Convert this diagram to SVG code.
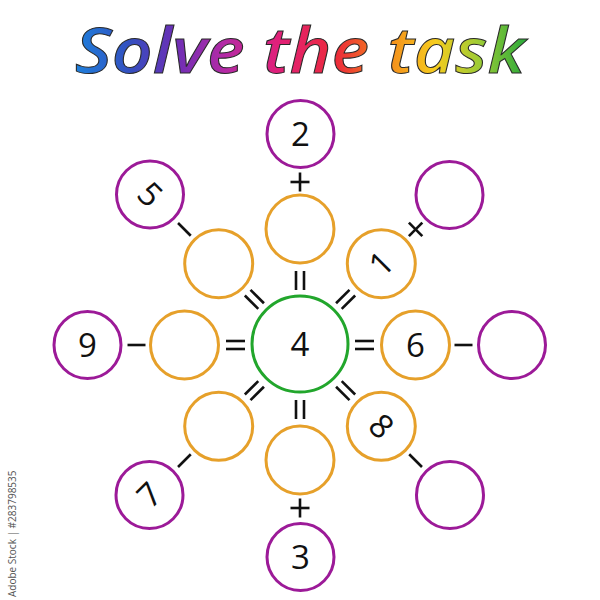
<svg xmlns="http://www.w3.org/2000/svg" xmlns:xlink="http://www.w3.org/1999/xlink" width="600" height="600" viewBox="0 0 600 600">
<style>
.purple{fill:#fff;stroke:#9c1a98;stroke-width:3}
.orange{fill:#fff;stroke:#e6a02a;stroke-width:3}
.green{fill:#fff;stroke:#22a62c;stroke-width:3}
.num{font-family:"Open Sans","Liberation Sans",sans-serif;font-size:33px;fill:#111;text-anchor:middle}
.op line{stroke:#111;stroke-width:2.6;stroke-linecap:butt}
.title{font-family:"Open Sans","Liberation Sans",sans-serif;font-weight:600;font-style:italic;font-size:64px;fill:url(#rainbow);stroke:#2a2a2a;stroke-width:1}
.stock{font-family:"Open Sans","Liberation Sans",sans-serif;font-size:10px;fill:#555}
</style>
<defs>
<linearGradient id="rainbow" gradientUnits="userSpaceOnUse" x1="75" y1="0" x2="525" y2="0">
<stop offset="0" stop-color="#1e80dc"/>
<stop offset="0.12" stop-color="#3350c0"/>
<stop offset="0.22" stop-color="#6a2fb6"/>
<stop offset="0.33" stop-color="#b32aa6"/>
<stop offset="0.45" stop-color="#e0207a"/>
<stop offset="0.58" stop-color="#ec2a3a"/>
<stop offset="0.68" stop-color="#f4821c"/>
<stop offset="0.8" stop-color="#f6cc1e"/>
<stop offset="0.9" stop-color="#9ccc36"/>
<stop offset="1" stop-color="#2caa3a"/>
</linearGradient>
<g id="eq" class="op"><line x1="-9.5" y1="-4" x2="9.5" y2="-4"/><line x1="-9.5" y1="4" x2="9.5" y2="4"/></g>
<g id="plus" class="op"><line x1="-9.5" y1="0" x2="9.5" y2="0"/><line x1="0" y1="-9.5" x2="0" y2="9.5"/></g>
<g id="minus" class="op"><line x1="-9" y1="0" x2="9" y2="0"/></g>
</defs>
<rect width="600" height="600" fill="#fff"/>
<text class="title" x="75" y="73" textLength="450" lengthAdjust="spacingAndGlyphs">Solve the task</text>
<text class="stock" transform="translate(16,597) rotate(-90)">Adobe Stock | #283798535</text>

<g id="connectors">
<use xlink:href="#eq" transform="translate(300,280.5) rotate(90)"/>
<use xlink:href="#eq" transform="translate(345.6,299.4) rotate(-45)"/>
<use xlink:href="#eq" transform="translate(364.5,345)"/>
<use xlink:href="#eq" transform="translate(345.6,390.6) rotate(45)"/>
<use xlink:href="#eq" transform="translate(300,409.5) rotate(90)"/>
<use xlink:href="#eq" transform="translate(254.4,390.6) rotate(-45)"/>
<use xlink:href="#eq" transform="translate(235.5,345)"/>
<use xlink:href="#eq" transform="translate(254.4,299.4) rotate(45)"/>
<use xlink:href="#plus" transform="translate(300,182)"/>
<use xlink:href="#plus" transform="translate(415.6,229.4) rotate(45)"/>
<use xlink:href="#minus" transform="translate(463.5,345)"/>
<use xlink:href="#minus" transform="translate(415.6,460.6) rotate(45)"/>
<use xlink:href="#plus" transform="translate(300,508)"/>
<use xlink:href="#minus" transform="translate(184.4,460.6) rotate(-45)"/>
<use xlink:href="#minus" transform="translate(136.5,345)"/>
<use xlink:href="#minus" transform="translate(184.4,229.4) rotate(45)"/>
</g>

<g id="center"><circle class="green" cx="300" cy="344" r="48"/><text class="num" x="300" y="356">4</text></g>

<g id="o-top"><circle class="orange" cx="300" cy="229" r="34"/></g>
<g id="o-tr"><circle class="orange" cx="381.3" cy="263.7" r="34"/><text class="num" transform="translate(381.3,263.7) rotate(-45)" y="11.5">1</text></g>
<g id="o-right"><circle class="orange" cx="415.5" cy="345" r="34"/><text class="num" x="415.5" y="356.5">6</text></g>
<g id="o-br"><circle class="orange" cx="381.3" cy="426.3" r="34"/><text class="num" transform="translate(381.3,426.3) rotate(45)" y="11.5">8</text></g>
<g id="o-bottom"><circle class="orange" cx="300" cy="460" r="34"/></g>
<g id="o-bl"><circle class="orange" cx="218.7" cy="426.3" r="34"/></g>
<g id="o-left"><circle class="orange" cx="184.5" cy="345" r="34"/></g>
<g id="o-tl"><circle class="orange" cx="218.7" cy="263.7" r="34"/></g>

<g id="p-top"><circle class="purple" cx="300.5" cy="134" r="33.5"/><text class="num" x="300.5" y="145.5">2</text></g>
<g id="p-tr"><circle class="purple" cx="449.5" cy="195" r="33.5"/></g>
<g id="p-right"><circle class="purple" cx="512" cy="345" r="33.5"/></g>
<g id="p-br"><circle class="purple" cx="450" cy="495" r="33.5"/></g>
<g id="p-bottom"><circle class="purple" cx="300.5" cy="557" r="33.5"/><text class="num" x="300.5" y="568.5">3</text></g>
<g id="p-bl"><circle class="purple" cx="149.5" cy="495" r="33.5"/><text class="num" transform="translate(149.5,495) rotate(-45)" y="11.5">7</text></g>
<g id="p-left"><circle class="purple" cx="87.5" cy="345" r="33.5"/><text class="num" x="87.5" y="356.5">9</text></g>
<g id="p-tl"><circle class="purple" cx="150" cy="194.5" r="33.5"/><text class="num" transform="translate(150,194.5) rotate(45)" y="11.5">5</text></g>
</svg>
